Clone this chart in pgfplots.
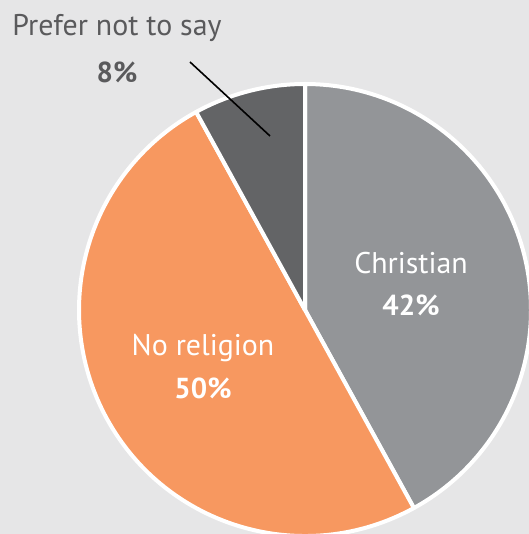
\documentclass[border=0pt]{standalone}
\usepackage{pgfplots}
\usepackage{pgfplotstable}
\pgfplotsset{compat=1.18}
\usepackage{fontspec}
\setmainfont{PT Sans}

\definecolor{bgc}{HTML}{E6E6E7}
\definecolor{christ}{HTML}{939598}
\definecolor{norel}{HTML}{F79860}
\definecolor{prefer}{HTML}{636466}
\definecolor{txt}{HTML}{5A5A5C}

\pgfplotstableread{
label value
Christian 42
NoReligion 50
Prefer 8
}\shares

\begin{document}
\begin{tikzpicture}
\pgfplotstablegetelem{0}{value}\of\shares \pgfmathsetmacro{\va}{\pgfplotsretval}
\pgfplotstablegetelem{1}{value}\of\shares \pgfmathsetmacro{\vb}{\pgfplotsretval}
\pgfplotstablegetelem{2}{value}\of\shares \pgfmathsetmacro{\vc}{\pgfplotsretval}
\pgfmathsetmacro{\aa}{90}
\pgfmathsetmacro{\ab}{90-3.6*\va}
\pgfmathsetmacro{\ac}{\ab-3.6*\vb}
\pgfmathsetmacro{\ad}{\ac-3.6*\vc}
\begin{axis}[
    scale only axis,
    width=529bp, height=534bp,
    xmin=0, xmax=529, ymin=0, ymax=534,
    axis lines=none, ticks=none,
    axis background/.style={fill=bgc},
    clip=true,
    ]
% center of pie at (305,224), radius 226
\fill[christ, draw=white, line width=4bp, line join=round]
    (axis cs:305,224) -- ++(\aa:226bp) arc[start angle=\aa, end angle=\ab, radius=226bp] -- cycle;
\fill[norel, draw=white, line width=4bp, line join=round]
    (axis cs:305,224) -- ++(\ab:226bp) arc[start angle=\ab, end angle=\ac, radius=226bp] -- cycle;
\fill[prefer, draw=white, line width=4bp, line join=round]
    (axis cs:305,224) -- ++(\ac:226bp) arc[start angle=\ac, end angle=\ad, radius=226bp] -- cycle;
\draw[black, line width=1.6bp] (axis cs:190,472) -- (axis cs:270,398);
\node[txt, font=\fontsize{30}{34}\selectfont] at (axis cs:117,506) {Prefer not to say};
\node[txt, font=\fontsize{29}{34}\selectfont\bfseries] at (axis cs:117,462) {8\%};
\node[white, font=\fontsize{30}{34}\selectfont] at (axis cs:411,271) {Christian};
\node[white, font=\fontsize{29}{34}\selectfont\bfseries] at (axis cs:411,229) {42\%};
\node[white, font=\fontsize{30}{34}\selectfont] at (axis cs:203,186) {No religion};
\node[white, font=\fontsize{29}{34}\selectfont\bfseries] at (axis cs:203,146) {50\%};
\end{axis}
\end{tikzpicture}
\end{document}
